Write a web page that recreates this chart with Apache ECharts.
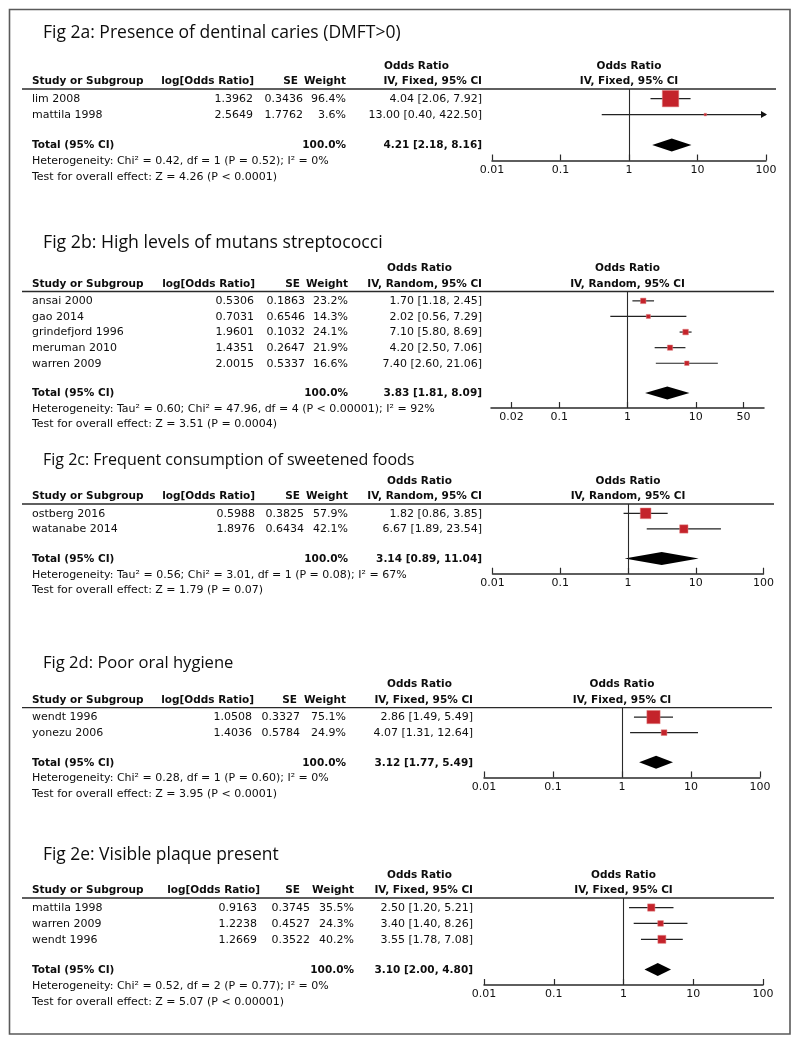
<!DOCTYPE html>
<html><head><meta charset="utf-8">
<script src="https://cdn.jsdelivr.net/npm/echarts@6/dist/echarts.min.js"></script>
<style>html,body{margin:0;padding:0;background:#fff}#c{width:800px;height:1046px}</style>
</head><body><div id="c"></div>
<script>
// ---------- Fig 2a ----------
const studiesA = ['lim 2008', 'mattila 1998'];
const logOrA = [1.3962, 2.5649];
const seA = [0.3436, 1.7762];
const weightA = [96.4, 3.6];
const orA = [4.04, 13.00];
const loA = [2.06, 0.40];
const hiA = [7.92, 422.50];
const totalA = [4.21, 2.18, 8.16];
const statsA = ['Heterogeneity: Chi² = 0.42, df = 1 (P = 0.52); I² = 0%', 'Test for overall effect: Z = 4.26 (P < 0.0001)'];
const ticksA = [0.01, 0.1, 1, 10, 100];
// ---------- Fig 2b ----------
const studiesB = ['ansai 2000', 'gao 2014', 'grindefjord 1996', 'meruman 2010', 'warren 2009'];
const logOrB = [0.5306, 0.7031, 1.9601, 1.4351, 2.0015];
const seB = [0.1863, 0.6546, 0.1032, 0.2647, 0.5337];
const weightB = [23.2, 14.3, 24.1, 21.9, 16.6];
const orB = [1.70, 2.02, 7.10, 4.20, 7.40];
const loB = [1.18, 0.56, 5.80, 2.50, 2.60];
const hiB = [2.45, 7.29, 8.69, 7.06, 21.06];
const totalB = [3.83, 1.81, 8.09];
const statsB = ['Heterogeneity: Tau² = 0.60; Chi² = 47.96, df = 4 (P < 0.00001); I² = 92%', 'Test for overall effect: Z = 3.51 (P = 0.0004)'];
const ticksB = [0.02, 0.1, 1, 10, 50];
// ---------- Fig 2c ----------
const studiesC = ['ostberg 2016', 'watanabe 2014'];
const logOrC = [0.5988, 1.8976];
const seC = [0.3825, 0.6434];
const weightC = [57.9, 42.1];
const orC = [1.82, 6.67];
const loC = [0.86, 1.89];
const hiC = [3.85, 23.54];
const totalC = [3.14, 0.89, 11.04];
const statsC = ['Heterogeneity: Tau² = 0.56; Chi² = 3.01, df = 1 (P = 0.08); I² = 67%', 'Test for overall effect: Z = 1.79 (P = 0.07)'];
const ticksC = [0.01, 0.1, 1, 10, 100];
// ---------- Fig 2d ----------
const studiesD = ['wendt 1996', 'yonezu 2006'];
const logOrD = [1.0508, 1.4036];
const seD = [0.3327, 0.5784];
const weightD = [75.1, 24.9];
const orD = [2.86, 4.07];
const loD = [1.49, 1.31];
const hiD = [5.49, 12.64];
const totalD = [3.12, 1.77, 5.49];
const statsD = ['Heterogeneity: Chi² = 0.28, df = 1 (P = 0.60); I² = 0%', 'Test for overall effect: Z = 3.95 (P < 0.0001)'];
const ticksD = [0.01, 0.1, 1, 10, 100];
// ---------- Fig 2e ----------
const studiesE = ['mattila 1998', 'warren 2009', 'wendt 1996'];
const logOrE = [0.9163, 1.2238, 1.2669];
const seE = [0.3745, 0.4527, 0.3522];
const weightE = [35.5, 24.3, 40.2];
const orE = [2.50, 3.40, 3.55];
const loE = [1.20, 1.40, 1.78];
const hiE = [5.21, 8.26, 7.08];
const totalE = [3.10, 2.00, 4.80];
const statsE = ['Heterogeneity: Chi² = 0.52, df = 2 (P = 0.77); I² = 0%', 'Test for overall effect: Z = 5.07 (P < 0.00001)'];
const ticksE = [0.01, 0.1, 1, 10, 100];

const titles = ['Fig 2a: Presence of dentinal caries (DMFT>0)', 'Fig 2b: High levels of mutans streptococci',
  'Fig 2c: Frequent consumption of sweetened foods', 'Fig 2d: Poor oral hygiene', 'Fig 2e: Visible plaque present'];
const methods = ['IV, Fixed, 95% CI', 'IV, Random, 95% CI', 'IV, Random, 95% CI', 'IV, Fixed, 95% CI', 'IV, Fixed, 95% CI'];
const totalWeightLabel = '100.0%';

const panels = [
  {studies: studiesA, logOr: logOrA, se: seA, weight: weightA, or: orA, lo: loA, hi: hiA, total: totalA, stats: statsA, ticks: ticksA},
  {studies: studiesB, logOr: logOrB, se: seB, weight: weightB, or: orB, lo: loB, hi: hiB, total: totalB, stats: statsB, ticks: ticksB},
  {studies: studiesC, logOr: logOrC, se: seC, weight: weightC, or: orC, lo: loC, hi: hiC, total: totalC, stats: statsC, ticks: ticksC},
  {studies: studiesD, logOr: logOrD, se: seD, weight: weightD, or: orD, lo: loD, hi: hiD, total: totalD, stats: statsD, ticks: ticksD},
  {studies: studiesE, logOr: logOrE, se: seE, weight: weightE, or: orE, lo: loE, hi: hiE, total: totalE, stats: statsE, ticks: ticksE}
];

// ---------- layout (pixels) ----------
const layout = [
  {titleY: 33, titleSize: 17.5, lineY: 89, step: 16, left: 492, right: 766, lineEnd: 776, col: {log: 253, logH: 254, se: 303, seH: 298, w: 346, or: 482, orH: 384}},
  {titleY: 243, titleSize: 17.7, lineY: 291.5, step: 15.6, left: 491, right: 764, lineEnd: 774, col: {log: 254, logH: 255, se: 305, seH: 300, w: 348, or: 482, orH: 387}},
  {titleY: 460, titleSize: 16, lineY: 504, step: 15.6, left: 492.5, right: 763.5, lineEnd: 774, col: {log: 255, logH: 255, se: 304, seH: 300, w: 348, or: 482, orH: 387}},
  {titleY: 663, titleSize: 16.6, lineY: 707.7, step: 15.6, left: 484, right: 760, lineEnd: 772, col: {log: 252, logH: 254, se: 300, seH: 297, w: 346, or: 473, orH: 387}},
  {titleY: 855, titleSize: 17.4, lineY: 898, step: 15.9, left: 484, right: 763, lineEnd: 774, col: {log: 257, logH: 260, se: 310, seH: 300, w: 354, or: 473, orH: 387}}
];

const FONT = '"DejaVu Sans", Verdana, sans-serif';
const TITLE_FONT = '"Open Sans", "Noto Sans", sans-serif';
const TXT = '#0d0d0d';
const YMIN = -0.6;
const log10 = Math.log10;

const chart = echarts.init(document.getElementById('c'), null, {renderer: 'canvas'});
const grids = [], xAxes = [], yAxes = [], series = [], graphics = [];

function txt(x, y, text, opts) {
  opts = opts || {};
  graphics.push({
    type: 'text', x: x, y: y, silent: true, z: 10,
    style: {
      text: text, fill: TXT,
      fontFamily: opts.family || FONT, fontSize: opts.size || (opts.bold ? 10.5 : 11), fontWeight: opts.bold ? 'bold' : 'normal',
      align: opts.align || 'left', textAlign: opts.align || 'left',
      verticalAlign: 'middle', textVerticalAlign: 'middle'
    }
  });
}

panels.forEach(function (p, k) {
  const L = layout[k];
  const n = p.studies.length;
  const totalRow = n + 0.9;
  const ymax = n + 1.87;
  const height = (ymax - YMIN) * L.step;
  const rowY = function (i) { return L.lineY + (i - YMIN) * L.step + 0.5; };
  const center = (L.left + L.right) / 2;

  grids.push({left: L.left, top: L.lineY, width: L.right - L.left, height: height,
    containLabel: false, outerBoundsMode: 'none', show: false});
  const tickVals = p.ticks.map(log10);
  xAxes.push({
    gridIndex: k, type: 'value', min: -2, max: 2, position: 'bottom',
    axisLine: {show: true, onZero: false, lineStyle: {color: '#2a2a2a', width: 1.5}},
    axisTick: {show: true, inside: true, length: 6, customValues: tickVals, lineStyle: {color: '#2a2a2a', width: 1.2}},
    axisLabel: {show: true, customValues: tickVals, margin: 4, color: '#111', fontFamily: FONT, fontSize: 11,
      formatter: function (v) { return String(Number(Math.pow(10, v).toPrecision(2))); }},
    splitLine: {show: false}
  });
  yAxes.push({gridIndex: k, type: 'value', inverse: true, min: YMIN, max: ymax, show: false,
    axisLine: {onZero: false}, splitLine: {show: false}});

  // confidence intervals (+ null line)
  series.push({
    type: 'custom', xAxisIndex: k, yAxisIndex: k, clip: false, z: 2,
    data: p.studies.map(function (s, i) { return [log10(p.lo[i]), log10(p.hi[i]), i]; }),
    renderItem: function (params, api) {
      const lo = api.value(0), hi = api.value(1), y = api.value(2);
      const a = api.coord([Math.max(lo, -2), y]);
      const b = api.coord([Math.min(hi, 2), y]);
      const children = [{type: 'line', shape: {x1: a[0], y1: a[1], x2: b[0], y2: b[1]}, style: {stroke: '#222', lineWidth: 1.2}}];
      if (hi > 2) children.push({type: 'polygon', shape: {points: [[b[0] + 1, b[1]], [b[0] - 5, b[1] - 3.5], [b[0] - 5, b[1] + 3.5]]}, style: {fill: '#111'}});
      if (lo < -2) children.push({type: 'polygon', shape: {points: [[a[0] - 1, a[1]], [a[0] + 5, a[1] - 3.5], [a[0] + 5, a[1] + 3.5]]}, style: {fill: '#111'}});
      return {type: 'group', children: children};
    },
    markLine: {silent: true, symbol: ['none', 'none'], label: {show: false}, animation: false,
      lineStyle: {color: '#2a2a2a', width: 1.1, type: 'solid'}, data: [{xAxis: 0}]}
  });
  // study boxes (size from weight)
  series.push({
    type: 'scatter', xAxisIndex: k, yAxisIndex: k, z: 3, symbol: 'rect',
    data: p.studies.map(function (s, i) { return [log10(p.or[i]), i, p.weight[i]]; }),
    symbolSize: function (v) { return 2 + 0.15 * v[2]; },
    itemStyle: {color: '#c4232b', borderColor: '#e08080', borderWidth: 0.5, opacity: 1}
  });
  // pooled diamond
  series.push({
    type: 'custom', xAxisIndex: k, yAxisIndex: k, clip: false, z: 3,
    data: [[log10(p.total[1]), log10(p.total[0]), log10(p.total[2]), totalRow]],
    renderItem: function (params, api) {
      const y = api.value(3);
      const a = api.coord([api.value(0), y]), m = api.coord([api.value(1), y]), b = api.coord([api.value(2), y]);
      return {type: 'polygon', shape: {points: [[a[0], a[1]], [m[0], m[1] - 6.5], [b[0], b[1]], [m[0], m[1] + 6.5]]}, style: {fill: '#000'}};
    }
  });

  // ----- table text -----
  txt(43, L.titleY, titles[k], {family: TITLE_FONT, size: L.titleSize});
  const h1 = L.lineY - 23, h2 = L.lineY - 7.5;
  txt(L.col.orH, h1, 'Odds Ratio', {bold: true});
  txt(center, h1, 'Odds Ratio', {bold: true, align: 'center'});
  txt(32, h2, 'Study or Subgroup', {bold: true});
  txt(L.col.logH, h2, 'log[Odds Ratio]', {bold: true, align: 'right'});
  txt(L.col.seH, h2, 'SE', {bold: true, align: 'right'});
  txt(L.col.w, h2, 'Weight', {bold: true, align: 'right'});
  txt(L.col.or, h2, methods[k], {bold: true, align: 'right'});
  txt(center, h2, methods[k], {bold: true, align: 'center'});
  graphics.push({type: 'line', silent: true, z: 9, shape: {x1: 22, y1: L.lineY, x2: L.lineEnd, y2: L.lineY},
    style: {stroke: '#2a2a2a', lineWidth: 1.3}});
  p.studies.forEach(function (s, i) {
    const y = rowY(i);
    txt(32, y, s);
    txt(L.col.log, y, p.logOr[i].toFixed(4), {align: 'right'});
    txt(L.col.se, y, p.se[i].toFixed(4), {align: 'right'});
    txt(L.col.w, y, p.weight[i].toFixed(1) + '%', {align: 'right'});
    txt(L.col.or, y, p.or[i].toFixed(2) + ' [' + p.lo[i].toFixed(2) + ', ' + p.hi[i].toFixed(2) + ']', {align: 'right'});
  });
  const ty = rowY(totalRow);
  txt(32, ty, 'Total (95% CI)', {bold: true});
  txt(L.col.w, ty, totalWeightLabel, {bold: true, align: 'right'});
  txt(L.col.or, ty, p.total[0].toFixed(2) + ' [' + p.total[1].toFixed(2) + ', ' + p.total[2].toFixed(2) + ']', {bold: true, align: 'right'});
  txt(32, ty + L.step, p.stats[0]);
  txt(32, ty + 2 * L.step, p.stats[1]);
});

graphics.push({type: 'rect', silent: true, z: 1, shape: {x: 9.5, y: 9.5, width: 780.5, height: 1024.5},
  style: {fill: 'none', stroke: '#5a5a5a', lineWidth: 1.6}});

chart.setOption({
  animation: false,
  backgroundColor: '#fff',
  grid: grids, xAxis: xAxes, yAxis: yAxes, series: series,
  graphic: {elements: graphics}
});
</script>
</body></html>
